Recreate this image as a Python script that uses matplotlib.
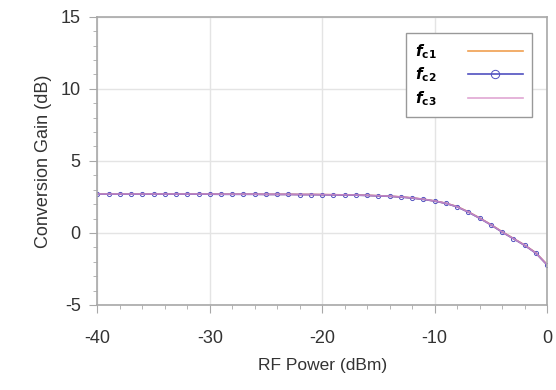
import matplotlib

matplotlib.use("Agg")
import matplotlib.pyplot as plt
from matplotlib.ticker import MultipleLocator

# RF input power sweep (dBm) and conversion gain (dB) for the three carrier freqs
rf_power = [-40, -39, -38, -37, -36, -35, -34, -33, -32, -31, -30,
            -29, -28, -27, -26, -25, -24, -23, -22, -21, -20,
            -19, -18, -17, -16, -15, -14, -13, -12, -11, -10,
            -9, -8, -7, -6, -5, -4, -3, -2, -1, 0]
gain_fc1 = [2.70, 2.70, 2.70, 2.70, 2.70, 2.70, 2.70, 2.70, 2.70, 2.70, 2.70,
            2.69, 2.69, 2.69, 2.69, 2.68, 2.68, 2.68, 2.67, 2.67, 2.66,
            2.65, 2.64, 2.63, 2.61, 2.58, 2.55, 2.50, 2.43, 2.34, 2.22,
            2.06, 1.83, 1.46, 1.04, 0.58, 0.08, -0.38, -0.84, -1.38, -2.20]
gain_fc2 = [2.69, 2.69, 2.69, 2.69, 2.69, 2.69, 2.69, 2.69, 2.69, 2.69, 2.69,
            2.68, 2.68, 2.68, 2.68, 2.67, 2.67, 2.67, 2.66, 2.66, 2.65,
            2.64, 2.63, 2.62, 2.60, 2.57, 2.54, 2.49, 2.42, 2.33, 2.21,
            2.05, 1.81, 1.44, 1.02, 0.56, 0.06, -0.40, -0.86, -1.40, -2.22]
gain_fc3 = [2.70, 2.70, 2.70, 2.70, 2.70, 2.70, 2.70, 2.70, 2.70, 2.70, 2.70,
            2.69, 2.69, 2.69, 2.69, 2.68, 2.68, 2.68, 2.67, 2.67, 2.66,
            2.65, 2.64, 2.63, 2.61, 2.58, 2.55, 2.50, 2.43, 2.34, 2.22,
            2.06, 1.82, 1.45, 1.03, 0.57, 0.07, -0.39, -0.85, -1.39, -2.21]

plt.rcParams["font.family"] = ["Liberation Sans", "DejaVu Sans"]
plt.rcParams["axes.unicode_minus"] = False

fig = plt.figure(figsize=(5.56, 3.9), dpi=100)
ax = fig.add_axes([0.175, 0.218, 0.809, 0.739])

ax.plot(rf_power, gain_fc1, color="#f0a050", lw=1.2, label=r"$\boldsymbol{f}_{\mathbf{c1}}$")
ax.plot(rf_power, gain_fc2, color="#5050c0", lw=1.2, marker="o", ms=3,
        mfc="none", mew=0.7, label=r"$\boldsymbol{f}_{\mathbf{c2}}$")
ax.plot(rf_power, gain_fc3, color="#d890c8", lw=1.2, alpha=0.8, label=r"$\boldsymbol{f}_{\mathbf{c3}}$")

ax.set_xlim(-40, 0)
ax.set_ylim(-5, 15)
ax.xaxis.set_major_locator(MultipleLocator(10))
ax.xaxis.set_minor_locator(MultipleLocator(2))
ax.yaxis.set_major_locator(MultipleLocator(5))
ax.yaxis.set_minor_locator(MultipleLocator(1))

for sp in ax.spines.values():
    sp.set_color("#a8a8a8")
    sp.set_linewidth(1.2)
ax.tick_params(which="major", direction="out", length=6, color="#a8a8a8",
               labelsize=13, labelcolor="#333333")
ax.tick_params(axis="x", which="major", pad=12)
ax.tick_params(axis="y", which="major", pad=6)
ax.tick_params(which="minor", direction="out", length=3, color="#a8a8a8")
ax.grid(True, which="major", color="#e4e4e4", lw=1.0)

ax.set_xlabel("RF Power (dBm)", fontsize=12.5, color="#333333", labelpad=8)
ax.set_ylabel("Conversion Gain (dB)", fontsize=13, color="#333333", labelpad=6)

leg = ax.legend(loc="upper right", bbox_to_anchor=(0.966, 0.943), markerfirst=False,
                fancybox=False, framealpha=1, edgecolor="#999999", fontsize=11,
                handlelength=3.6, labelspacing=0.3, borderpad=0.6, handletextpad=2.0,
                borderaxespad=0, markerscale=2)
leg.get_frame().set_linewidth(1.0)

fig.savefig("out.png", dpi=100)
